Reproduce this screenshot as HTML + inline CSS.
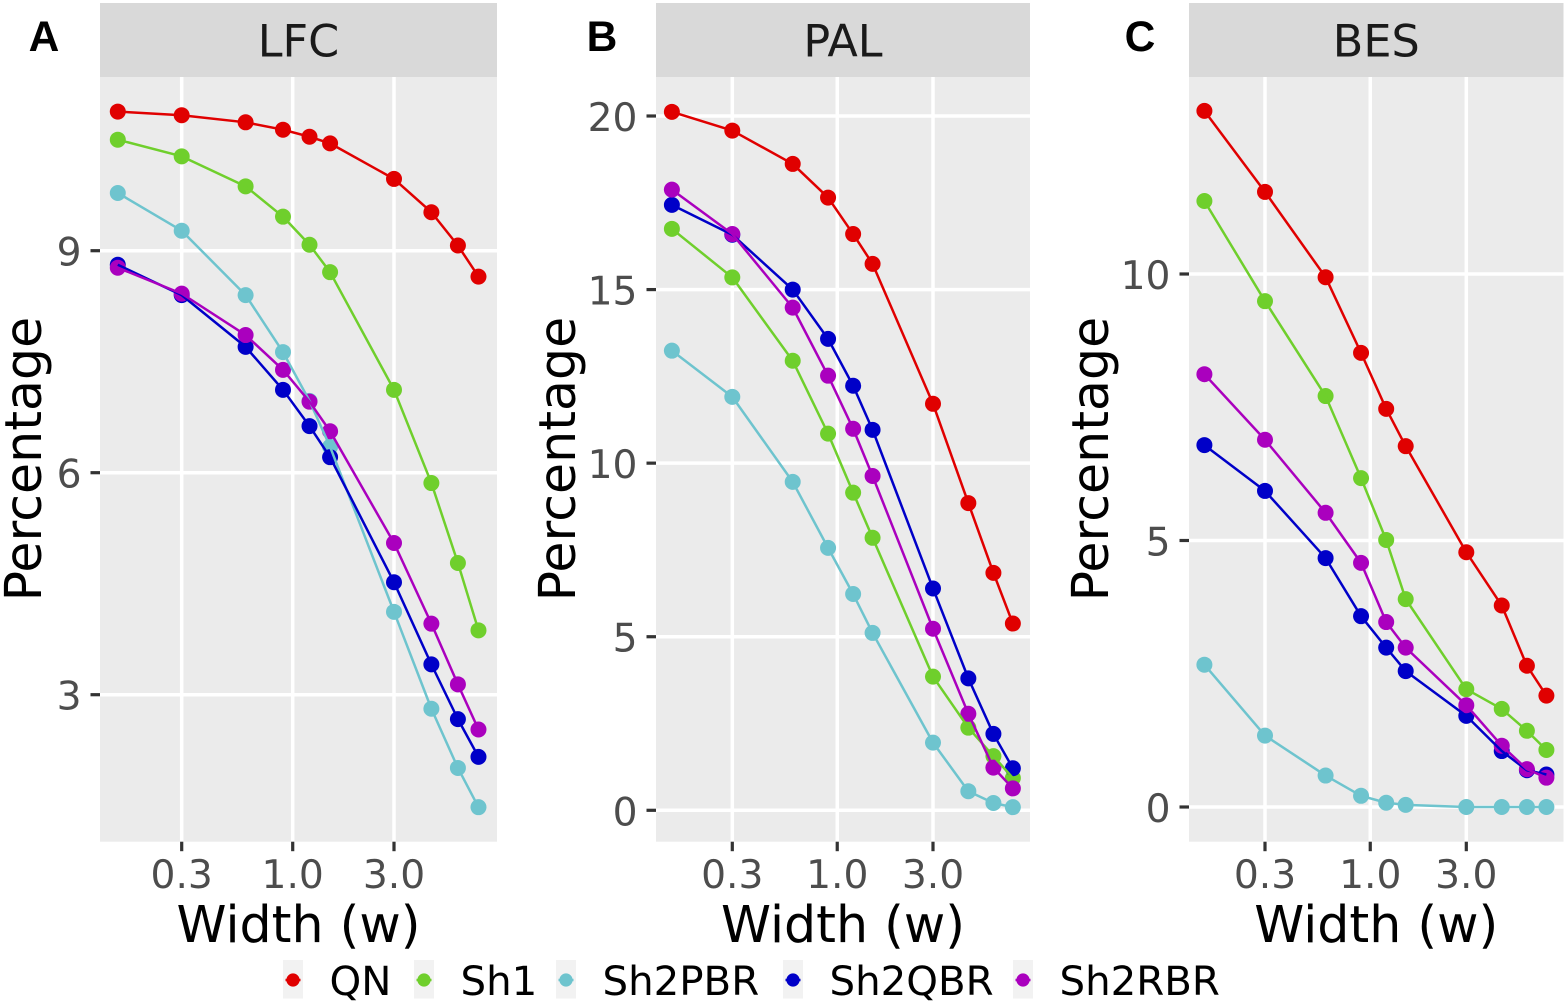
<!DOCTYPE html>
<html lang="en">
<head>
<meta charset="utf-8">
<title>Percentage by width for LFC, PAL and BES</title>
<style>
html,body{margin:0;padding:0;background:#fff;}
#chart{display:block;width:1567px;height:1003px;font-family:"DejaVu Sans","Liberation Sans",sans-serif;}
</style>
</head>
<body>
<svg id="chart" xmlns="http://www.w3.org/2000/svg" width="1567" height="1003" viewBox="0 0 1567 1003"></svg>
<script>
const widths = [0.15, 0.3, 0.6, 0.9, 1.2, 1.5, 3, 4.5, 6, 7.5];
const xTickValues = [0.3, 1, 3];
const xTickLabels = ["0.3", "1.0", "3.0"];
const seriesNames = ["QN", "Sh1", "Sh2PBR", "Sh2QBR", "Sh2RBR"];

const lfcTicks = [3, 6, 9];
const lfcQN = [10.88, 10.83, 10.735, 10.635, 10.54, 10.45, 9.97, 9.52, 9.07, 8.65];
const lfcSh1 = [10.5, 10.275, 9.87, 9.46, 9.08, 8.71, 7.12, 5.86, 4.78, 3.87];
const lfcSh2PBR = [9.78, 9.27, 8.4, 7.63, 6.97, 6.35, 4.12, 2.81, 2.01, 1.48];
const lfcSh2QBR = [8.81, 8.4, 7.7, 7.12, 6.63, 6.21, 4.52, 3.41, 2.67, 2.16];
const lfcSh2RBR = [8.77, 8.42, 7.86, 7.39, 6.96, 6.56, 5.05, 3.96, 3.14, 2.53];

const palTicks = [0, 5, 10, 15, 20];
const palQN = [20.12, 19.58, 18.62, 17.65, 16.6, 15.74, 11.71, 8.85, 6.84, 5.38];
const palSh1 = [16.75, 15.35, 12.95, 10.85, 9.15, 7.85, 3.85, 2.38, 1.56, 0.93];
const palSh2PBR = [13.24, 11.91, 9.46, 7.56, 6.23, 5.11, 1.95, 0.55, 0.21, 0.09];
const palSh2QBR = [17.44, 16.58, 15.0, 13.58, 12.23, 10.96, 6.39, 3.8, 2.2, 1.21];
const palSh2RBR = [17.88, 16.6, 14.48, 12.52, 10.99, 9.63, 5.23, 2.78, 1.23, 0.63];

const besTicks = [0, 5, 10];
const besQN = [13.06, 11.54, 9.94, 8.52, 7.47, 6.77, 4.78, 3.78, 2.65, 2.09];
const besSh1 = [11.37, 9.49, 7.71, 6.17, 5.01, 3.9, 2.21, 1.84, 1.43, 1.07];
const besSh2PBR = [2.67, 1.34, 0.59, 0.21, 0.08, 0.04, 0, 0, 0, 0];
const besSh2QBR = [6.79, 5.93, 4.67, 3.58, 2.99, 2.55, 1.71, 1.05, 0.69, 0.61];
const besSh2RBR = [8.12, 6.89, 5.52, 4.58, 3.47, 2.99, 1.91, 1.15, 0.71, 0.55];

const seriesColors = ["#E00000", "#6FCF2C", "#6EC4CE", "#0000C8", "#AA00BE"];

const panels = [
  { title: "LFC", letter: "A", letterX: 44, left: 100, right: 497, xA: 181.7, xB: 394, yV0: 3, yP0: 694.7, yV1: 9, yP1: 250.7, ticks: lfcTicks, series: [lfcQN, lfcSh1, lfcSh2PBR, lfcSh2QBR, lfcSh2RBR], yTitleX: 24 },
  { title: "PAL", letter: "B", letterX: 602, left: 656, right: 1030, xA: 732.3, xB: 933, yV0: 0, yP0: 810.3, yV1: 20, yP1: 116, ticks: palTicks, series: [palQN, palSh1, palSh2PBR, palSh2QBR, palSh2RBR], yTitleX: 558 },
  { title: "BES", letter: "C", letterX: 1140, left: 1189, right: 1563.5, xA: 1265, xB: 1466.3, yV0: 0, yP0: 807, yV1: 10, yP1: 274, ticks: besTicks, series: [besQN, besSh1, besSh2PBR, besSh2QBR, besSh2RBR], yTitleX: 1091 }
];

const NS = "http://www.w3.org/2000/svg";
const svg = document.getElementById("chart");
const STRIP_TOP = 3, PANEL_TOP = 77, PANEL_BOTTOM = 841.7;

function create(tag, attrs, parent, text) {
  const el = document.createElementNS(NS, tag);
  for (const k in attrs) el.setAttribute(k, attrs[k]);
  if (text !== undefined) el.textContent = text;
  parent.appendChild(el);
  return el;
}
function xAxis(p) {
  const perDecade = (p.xB - p.xA);
  return v => p.xA + (Math.log10(v) - Math.log10(0.3)) * perDecade;
}
function yAxis(p) {
  return v => p.yP0 + (v - p.yV0) * (p.yP1 - p.yP0) / (p.yV1 - p.yV0);
}

panels.forEach(p => {
  const key = p.title.toLowerCase();
  const x = xAxis(p), y = yAxis(p);
  const g = create("g", {}, svg);
  
  

  const strip = create("rect", { x: p.left, y: STRIP_TOP, width: p.right - p.left, height: PANEL_TOP - STRIP_TOP, fill: "#D9D9D9" }, g);
  
  

  const center = (p.left + p.right) / 2;
  const stripText = create("text", { x: center, y: 56.5, "text-anchor": "middle", "font-size": 44.5, fill: "#1A1A1A" }, g, p.title);
  
  

  const letter = create("text", { x: p.letterX, y: 51, "text-anchor": "middle", "font-size": 42.5, "font-weight": "bold", fill: "#000", style: 'font-family:"Liberation Sans",sans-serif' }, g, p.letter);
  
  

  const bg = create("rect", { x: p.left, y: PANEL_TOP, width: p.right - p.left, height: PANEL_BOTTOM - PANEL_TOP, fill: "#EBEBEB" }, g);
  
  

  p.ticks.forEach(t => {
    const py = y(t);
    const grid = create("line", { x1: p.left, x2: p.right, y1: py, y2: py, stroke: "#fff", "stroke-width": 3.5 }, g);
    
    
    const tick = create("line", { x1: p.left - 9.5, x2: p.left, y1: py, y2: py, stroke: "#333", "stroke-width": 3.2 }, g);
    
    
    const label = create("text", { x: p.left - 18.5, y: py + 15, "text-anchor": "end", "font-size": 39.2, fill: "#4D4D4D" }, g, String(t));
    
    
  });

  xTickValues.forEach((t, i) => {
    const px = x(t);
    const grid = create("line", { x1: px, x2: px, y1: PANEL_TOP, y2: PANEL_BOTTOM, stroke: "#fff", "stroke-width": 3.5 }, g);
    
    
    const tick = create("line", { x1: px, x2: px, y1: PANEL_BOTTOM, y2: PANEL_BOTTOM + 9.5, stroke: "#333", "stroke-width": 3.2 }, g);
    
    
    const label = create("text", { x: px, y: 888, "text-anchor": "middle", "font-size": 39.2, fill: "#4D4D4D" }, g, xTickLabels[i]);
    
    
  });

  p.series.forEach((values, s) => {
    values.forEach((v, i) => {
      const c = create("circle", { cx: x(widths[i]), cy: y(v), r: 8, fill: seriesColors[s] }, g);
      
      
    });
  });
  p.series.forEach((values, s) => {
    const pts = values.map((v, i) => x(widths[i]).toFixed(2) + "," + y(v).toFixed(2)).join(" ");
    const line = create("polyline", { points: pts, fill: "none", stroke: seriesColors[s], "stroke-width": 2.5, "stroke-linejoin": "round" }, g);
    
    
  });

  const xTitle = create("text", { x: center, y: 942, "text-anchor": "middle", "font-size": 50.6, fill: "#000" }, g, "Width (w)");
  
  

  const yTitle = create("text", { x: 0, y: 0, transform: "translate(" + (p.yTitleX + 17) + ",459) rotate(-90)", "text-anchor": "middle", "font-size": 50.6, fill: "#000" }, g, "Percentage");
  
  
});

const legendKeyCenters = [293, 424, 566, 793, 1023];
const legendGroup = create("g", {}, svg);


seriesNames.forEach((name, i) => {
  const cx = legendKeyCenters[i];
  const entry = create("g", {}, legendGroup);
  
  
  const bg = create("rect", { x: cx - 10, y: 960, width: 20, height: 38.5, fill: "#F2F2F2" }, entry);
  
  
  const stub = create("line", { x1: cx - 7.5, x2: cx + 7.5, y1: 980, y2: 980, stroke: seriesColors[i], "stroke-width": 2.5 }, entry);
  
  
  const dot = create("circle", { cx: cx, cy: 980, r: 6.6, fill: seriesColors[i] }, entry);
  
  
  const label = create("text", { x: cx + 36.5, y: 995, "font-size": 40.3, fill: "#000" }, entry, name);
  
  
});
</script>
</body>
</html>
